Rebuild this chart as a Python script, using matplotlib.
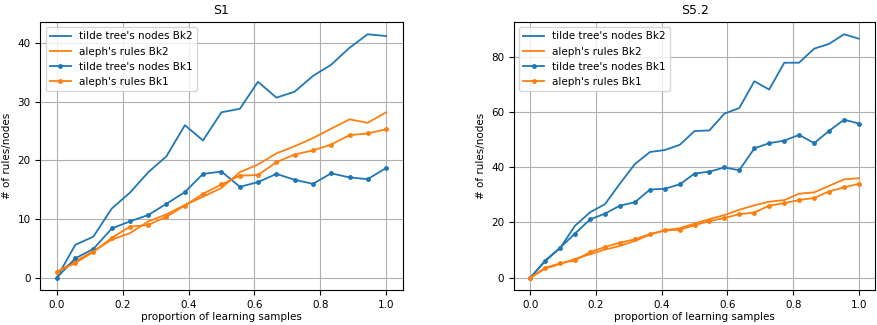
import matplotlib
matplotlib.use('Agg')
import matplotlib.pyplot as plt

# S1: 19 sample proportions
x_s1 = [0.0, 0.056, 0.111, 0.167, 0.222, 0.278, 0.333, 0.389, 0.444, 0.5,
        0.556, 0.611, 0.667, 0.722, 0.778, 0.833, 0.889, 0.944, 1.0]
tilde_bk2_s1 = [0.0, 5.6, 7.0, 11.8, 14.5, 18.0, 20.7, 26.0, 23.4, 28.2,
                28.8, 33.4, 30.7, 31.7, 34.4, 36.3, 39.2, 41.5, 41.2]
aleph_bk2_s1 = [1.0, 2.8, 4.5, 6.5, 7.6, 9.6, 10.8, 12.4, 13.8, 15.3,
                18.0, 19.3, 21.2, 22.4, 23.8, 25.4, 27.0, 26.4, 28.2]
tilde_bk1_s1 = [0.0, 3.3, 4.9, 8.4, 9.6, 10.7, 12.6, 14.6, 17.7, 18.1,
                15.5, 16.3, 17.7, 16.7, 16.0, 17.8, 17.1, 16.8, 18.7]
aleph_bk1_s1 = [1.0, 2.5, 4.4, 6.8, 8.7, 9.0, 10.4, 12.3, 14.3, 15.9,
                17.4, 17.5, 19.7, 21.0, 21.7, 22.7, 24.3, 24.6, 25.3]

# S5.2: 23 sample proportions
x_s52 = [0.0, 0.045, 0.091, 0.136, 0.182, 0.227, 0.273, 0.318, 0.364, 0.409,
         0.455, 0.5, 0.545, 0.591, 0.636, 0.682, 0.727, 0.773, 0.818, 0.864,
         0.909, 0.955, 1.0]
tilde_bk2_s52 = [0.0, 6.0, 10.8, 18.8, 23.7, 26.6, 34.1, 41.1, 45.5, 46.2,
                 48.1, 53.1, 53.3, 59.4, 61.4, 71.1, 68.1, 77.8, 77.8, 82.9,
                 84.6, 88.1, 86.5]
aleph_bk2_s52 = [0.0, 3.3, 5.0, 6.8, 8.5, 10.2, 11.5, 13.3, 15.6, 17.2,
                 17.9, 19.6, 21.2, 22.7, 24.6, 26.2, 27.5, 28.1, 30.4, 30.9,
                 33.2, 35.6, 36.0]
tilde_bk1_s52 = [0.0, 6.2, 10.9, 16.0, 21.1, 23.2, 26.1, 27.3, 31.9, 32.2,
                 33.8, 37.7, 38.4, 39.9, 38.9, 46.8, 48.7, 49.6, 51.7, 48.7,
                 53.1, 57.2, 55.8]
aleph_bk1_s52 = [0.0, 3.6, 5.2, 6.3, 9.3, 11.1, 12.7, 13.9, 15.8, 17.1,
                 17.4, 19.0, 20.5, 21.6, 23.0, 23.6, 26.1, 27.0, 28.1, 28.9,
                 31.2, 32.7, 34.0]

plt.rcParams['font.size'] = 7.5

fig = plt.figure(figsize=(8.77, 3.25), dpi=100)
ax1 = fig.add_axes([0.046, 0.108, 0.413, 0.824])
ax2 = fig.add_axes([0.586, 0.108, 0.412, 0.824])

panels = [
    (ax1, 'S1', x_s1, tilde_bk2_s1, aleph_bk2_s1, tilde_bk1_s1, aleph_bk1_s1),
    (ax2, 'S5.2', x_s52, tilde_bk2_s52, aleph_bk2_s52, tilde_bk1_s52, aleph_bk1_s52),
]

for ax, title, x, t2, a2, t1, a1 in panels:
    ax.plot(x, t2, color='C0', lw=1.3, label="tilde tree's nodes Bk2")
    ax.plot(x, a2, color='C1', lw=1.3, label="aleph's rules Bk2")
    ax.plot(x, t1, color='C0', lw=1.3, marker='.', ms=5, label="tilde tree's nodes Bk1")
    ax.plot(x, a1, color='C1', lw=1.3, marker='.', ms=5, label="aleph's rules Bk1")
    ax.grid(True)
    ax.set_title(title, fontsize=9)
    ax.set_xlabel('proportion of learning samples', labelpad=2)
    ax.set_ylabel('# of rules/nodes')
    ax.legend(loc='upper left')

fig.savefig('out.png', dpi=100)
